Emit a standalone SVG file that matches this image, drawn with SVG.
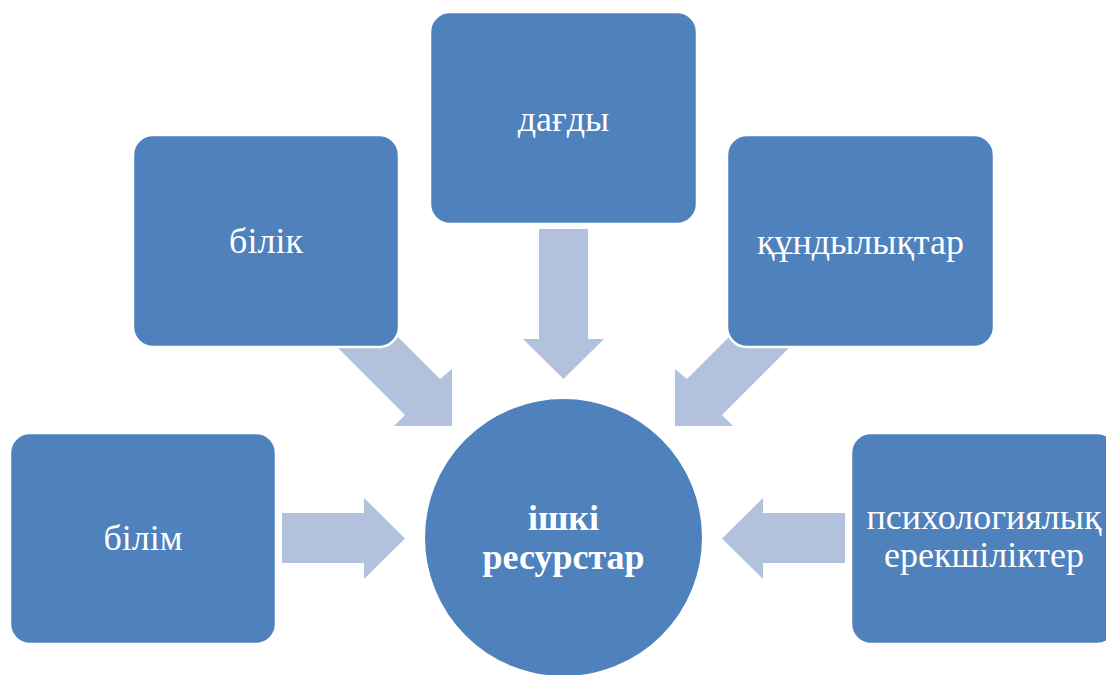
<svg xmlns="http://www.w3.org/2000/svg" width="1106" height="675" viewBox="0 0 1106 675">
<style>
.box{fill:#4F81BD;stroke:#FFFFFF;stroke-width:2.5}
.arr{fill:#B2C2DD}
.lbl{font-size:36px;fill:#FFFFFF;text-anchor:middle}
.bold{font-weight:bold}
</style>
<rect width="1106" height="675" fill="#FFFFFF"/>
<g id="connectors">
<polygon class="arr" points="282,513 364,513 364,498 405,538.5 364,579 364,563 282,563"/>
<polygon class="arr" points="845,513 763,513 763,498 722,538.5 763,579 763,563 845,563"/>
<polygon class="arr" points="539,229 588,229 588,339 604,339 563.5,379 523,339 539,339"/>
<polygon class="arr" points="335,345 405,415 394,426 452,426 452,369 440,379 370.5,309.5"/>
<polygon class="arr" points="792,345 722,415 733,426 675,426 675,369 687,379 756.5,309.5"/>
</g>
<g font-family="'Liberation Serif', 'DejaVu Serif', serif">
<g id="node-bilim">
<rect class="box" x="10" y="433" width="266" height="211" rx="20"/>
<text class="lbl" x="143" y="550">білім</text>
</g>
<g id="node-bilik">
<rect class="box" x="133" y="135" width="266" height="212" rx="20"/>
<text class="lbl" x="266" y="253">білік</text>
</g>
<g id="node-dagdy">
<rect class="box" x="430" y="12" width="267" height="212" rx="20"/>
<text class="lbl" x="563.5" y="131">дағды</text>
</g>
<g id="node-kundylyktar">
<rect class="box" x="727" y="135" width="267" height="212" rx="20"/>
<text class="lbl" x="860.5" y="254">құндылықтар</text>
</g>
<g id="node-psych">
<rect class="box" x="851" y="433" width="266" height="211" rx="20"/>
<text class="lbl" x="984" y="529">психологиялық</text>
<text class="lbl" x="984" y="567">ерекшіліктер</text>
</g>
<g id="node-center">
<circle cx="563.5" cy="537.5" r="139.5" fill="#4F81BD" stroke="#FFFFFF" stroke-width="2"/>
<text class="lbl bold" x="563.5" y="530">ішкі</text>
<text class="lbl bold" x="563.5" y="569">ресурстар</text>
</g>
</g>
</svg>
